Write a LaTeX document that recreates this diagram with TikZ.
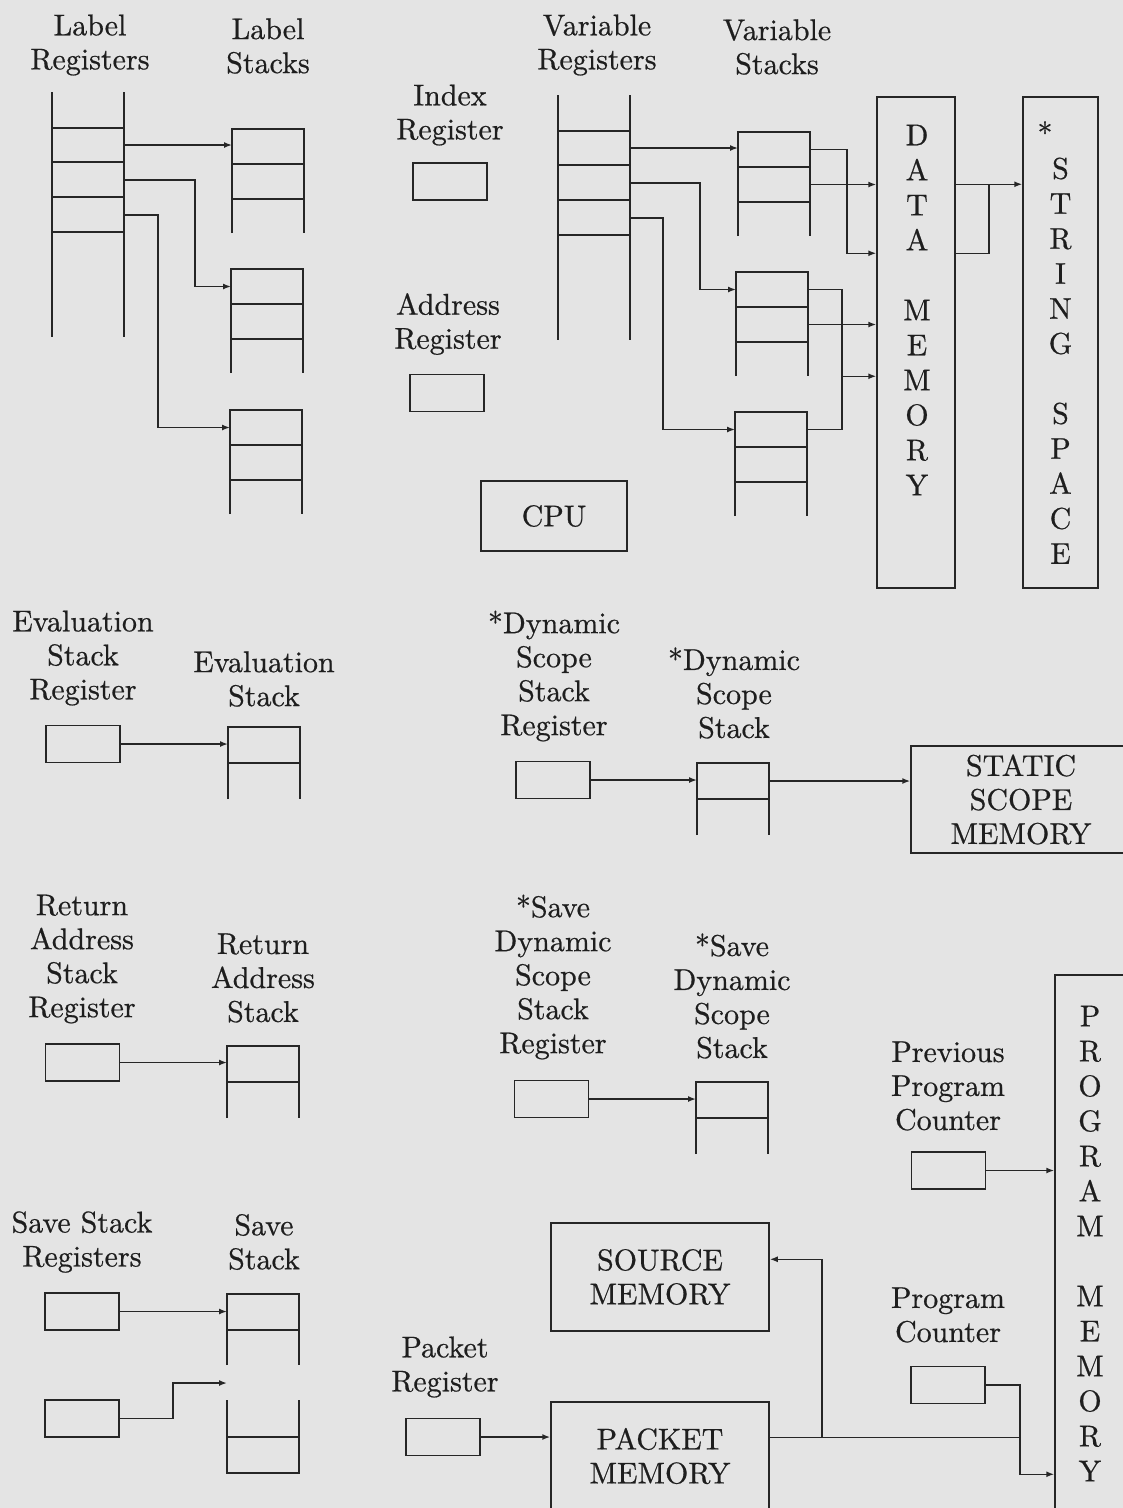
\documentclass[tikz,border=0pt]{standalone}
\usepackage{fontspec}
\setmainfont{lmroman10-regular}[Extension=.otf, FakeBold=0.6]
\usetikzlibrary{arrows.meta,calc}
\definecolor{paper}{RGB}{228,228,228}
\definecolor{ink}{RGB}{38,38,38}
\definecolor{textink}{RGB}{30,30,30}
\tikzset{
  ln/.style={draw=ink, line width=1.5pt},
  arr/.style={ln, -{Latex[length=8pt,width=6pt]}},
  lbl/.style={align=center, text=textink, font=\fontsize{30}{34}\selectfont, inner sep=0pt},
  col/.style={lbl, font=\fontsize{30}{35}\selectfont},
  box/.style={ln, rectangle, inner sep=0pt},
  regbox/.style={box, minimum width=74pt, minimum height=37pt},
  pics/ladder/.style={code={
    \draw[ln] (0,0) -- (0,245) (72,0) -- (72,245);
    \foreach \yy in {36,70,105,140} \draw[ln] (0,\yy) -- (72,\yy);
    \coordinate (-r1) at (72,53);
    \coordinate (-r2) at (72,88);
    \coordinate (-r3) at (72,123);
  }},
  pics/stackthree/.style={code={
    \draw[ln] (0,104) -- (0,0) -- (72,0) -- (72,104);
    \draw[ln] (0,35) -- (72,35) (0,70) -- (72,70);
    \coordinate (-in) at (0,17.5);
    \coordinate (-o1) at (72,17.5);
    \coordinate (-o2) at (72,52.5);
  }},
  pics/stacktwo/.style={code={
    \draw[ln] (0,72) -- (0,0) -- (72,0) -- (72,72);
    \draw[ln] (0,36) -- (72,36);
    \coordinate (-in) at (0,18);
    \coordinate (-o1) at (72,18);
  }},
  pics/savestack/.style={code={
    \draw[ln] (0,71) -- (0,0) -- (72,0) -- (72,71);
    \draw[ln] (0,36) -- (72,36);
    \draw[ln] (0,106) -- (0,179) -- (72,179) -- (72,106);
    \draw[ln] (0,143) -- (72,143);
    \coordinate (-in1) at (0,18);
    \coordinate (-in2) at (0,89);
  }},
}
\begin{document}
\begin{tikzpicture}[x=1pt,y=-1pt]
\fill[paper] (0,0) rectangle (1123,1508);
\useasboundingbox (0,0) rectangle (1123,1508);
\begin{scope}
\clip (0,0) rectangle (1123,1508);

% ---------- Label registers and stacks ----------
\node[lbl] (tLR) at (90,45) {Label\\Registers};
\pic (lr) at (52,92) {ladder};
\node[lbl] (tLS) at (268,46) {Label\\Stacks};
\pic (ls1) at (232,129) {stackthree};
\pic (ls2) at (231,269) {stackthree};
\pic (ls3) at (230,410) {stackthree};
\draw[arr] (lr-r1) -- (lr-r1 -| ls1-in);
\draw[arr] (lr-r2) -- ++(71,0) |- (ls2-in);
\draw[arr] (lr-r3) -- ++(34,0) |- (ls3-in);

% ---------- Index / Address / CPU ----------
\node[lbl] (tIR) at (450,115) {Index\\Register};
\node[regbox] (ir) at (450,181.5) {};
\node[lbl] (tAR) at (448,324) {Address\\Register};
\node[regbox] (ar) at (447,393) {};
\node[box, lbl, minimum width=146pt, minimum height=70pt] (cpu) at (554,516) {CPU};

% ---------- Variable registers and stacks ----------
\node[lbl] (tVR) at (597,45) {Variable\\Registers};
\node[lbl] (tVS) at (777,47) {Variable\\Stacks};
\pic (vr) at (558,95) {ladder};
\pic (vs1) at (738,132) {stackthree};
\pic (vs2) at (736,272) {stackthree};
\pic (vs3) at (735,412) {stackthree};
\draw[arr] (vr-r1) -- (vr-r1 -| vs1-in);
\draw[arr] (vr-r2) -- ++(70,0) |- (vs2-in);
\draw[arr] (vr-r3) -- ++(33,0) |- (vs3-in);

% ---------- Data memory and string space ----------
\node[box, minimum width=78pt, minimum height=491pt] (dm) at (916,342.5) {};
\node[col] (dmt) at (917,310) {D\\A\\T\\A\\\mbox{}\\M\\E\\M\\O\\R\\Y};
\node[box, col, minimum width=75pt, minimum height=491pt] (ss) at (1060.5,342.5)
  {\llap{*\hspace{8pt}}\\S\\T\\R\\I\\N\\G\\\mbox{}\\S\\P\\A\\C\\E};

\coordinate (dmA) at ($(dm.north west)+(0,157)$);
\coordinate (dmB) at ($(dm.north west)+(0,280)$);
\draw[arr] (vs1-o1) -- ++(37,0) |- (dmA);
\draw[arr] (vs1-o2) -- (vs1-o2 -| dm.west);
\draw[arr] (vs2-o2) -- (vs2-o2 -| dm.west);
\draw[ln] (vs2-o1) -- ++(34,0) coordinate (jv) -- (jv |- vs3-o1) -- (vs3-o1);
\draw[arr] (jv |- dmB) -- (dmB);

\coordinate (dmo1) at ($(dm.north east)+(0,88)$);
\coordinate (dmo2) at ($(dm.north east)+(0,157)$);
\draw[arr] (dmo1) -- (dmo1 -| ss.west);
\draw[ln] (dmo2) -- ++(33,0) |- (dmo1);

% ---------- Evaluation stack ----------
\node[lbl] (tESR) at (83,658) {Evaluation\\Stack\\Register};
\node[regbox] (esr) at (83,744) {};
\node[lbl] (tES) at (264,679) {Evaluation\\Stack};
\pic (es) at (228,727) {stacktwo};
\draw[arr] (esr.east) -- (esr.east -| es-in);

% ---------- Dynamic scope ----------
\node[lbl] (tDR) at (554,676) {*Dynamic\\Scope\\Stack\\Register};
\node[regbox] (dr) at (553,780) {};
\node[lbl] (tDS) at (734,693) {*Dynamic\\Scope\\Stack};
\pic (ds) at (697,763) {stacktwo};
\draw[arr] (dr.east) -- (dr.east -| ds-in);
\node[box, lbl, minimum width=220pt, minimum height=107pt] (ssm) at (1021,799.5) {STATIC\\SCOPE\\MEMORY};
\draw[arr] (ds-o1) -- (ds-o1 -| ssm.west);

% ---------- Return address ----------
\node[lbl] (tRR) at (82,959) {Return\\Address\\Stack\\Register};
\node[regbox] (rr) at (82.5,1062.5) {};
\node[lbl] (tRS) at (263,978) {Return\\Address\\Stack};
\pic (rs) at (227,1046) {stacktwo};
\draw[arr] (rr.east) -- (rr.east -| rs-in);

% ---------- Save dynamic scope ----------
\node[lbl] (tSDR) at (553,977) {*Save\\Dynamic\\Scope\\Stack\\Register};
\node[regbox] (sdr) at (551.5,1099) {};
\node[lbl] (tSDS) at (732,996) {*Save\\Dynamic\\Scope\\Stack};
\pic (sds) at (696,1082) {stacktwo};
\draw[arr] (sdr.east) -- (sdr.east -| sds-in);

% ---------- Program memory and counters ----------
\node[lbl] (tPPC) at (948,1086) {Previous\\Program\\Counter};
\node[regbox] (ppc) at (948.5,1170.5) {};
\node[box, col, minimum width=70pt, minimum height=537pt] (pmem) at (1090,1243.5)
  {P\\R\\O\\G\\R\\A\\M\\\mbox{}\\M\\E\\M\\O\\R\\Y};
\draw[arr] (ppc.east) -- (ppc.east -| pmem.west);
\node[lbl] (tPC) at (948,1315) {Program\\Counter};
\node[regbox] (pc) at (948,1385) {};
\coordinate (pmin) at ($(pmem.north west)+(0,500)$);
\draw[arr] (pc.east) -- ++(34,0) coordinate (pcj) |- (pmin);

% ---------- Save stack ----------
\node[lbl] (tSSR) at (82,1242) {Save Stack\\Registers};
\node[regbox] (ss1) at (82,1311.5) {};
\node[regbox] (ss2) at (82,1418.5) {};
\node[lbl] (tSS) at (264,1242) {Save\\Stack};
\pic (svs) at (227,1294) {savestack};
\draw[arr] (ss1.east) -- (ss1.east -| svs-in1);
\draw[arr] (ss2.east) -- ++(53,0) |- (svs-in2);

% ---------- Source / packet memory ----------
\node[box, lbl, minimum width=218pt, minimum height=108pt] (src) at (660,1277) {SOURCE\\MEMORY};
\node[box, lbl, minimum width=218pt, minimum height=108pt] (pkm) at (660,1456) {PACKET\\MEMORY};
\node[lbl] (tPR) at (445,1367) {Packet\\Register};
\node[regbox] (pr) at (443,1437) {};
\draw[arr] (pr.east) -- (pr.east -| pkm.west);
\coordinate (pkmo) at ($(pkm.north east)+(0,36)$);
\draw[ln] (pkmo) -- (pkmo -| pcj);
\draw[arr] ($(pkmo)+(52,0)$) |- ($(src.north east)+(0,37)$);

\end{scope}
\end{tikzpicture}
\end{document}
